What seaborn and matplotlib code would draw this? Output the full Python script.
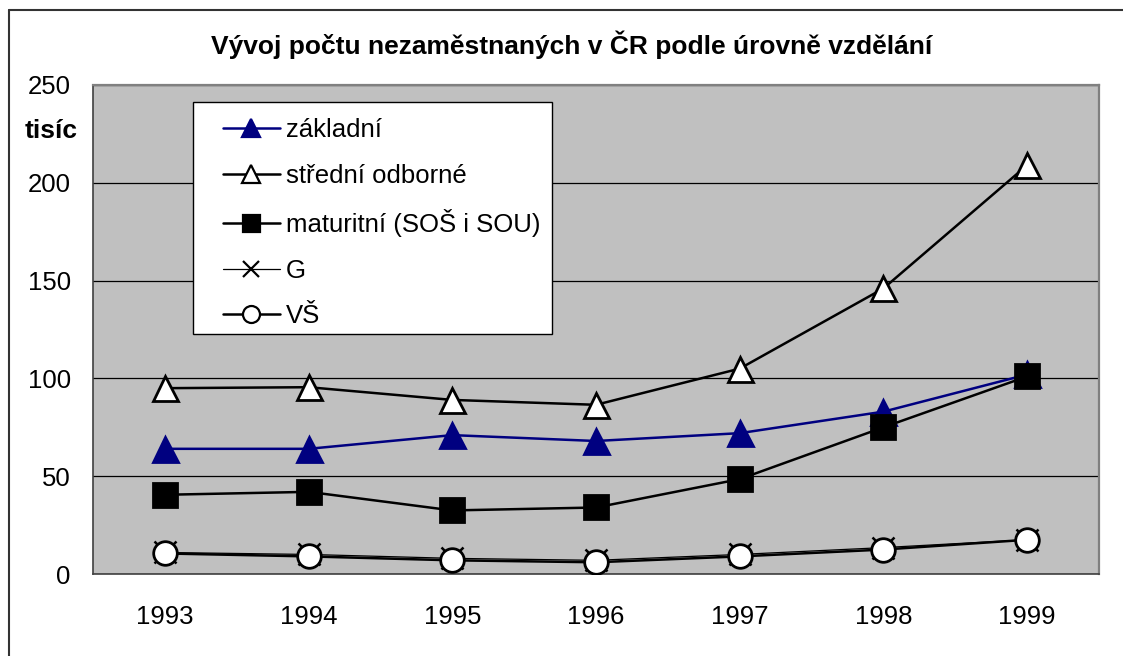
"""
Vývoj počtu nezaměstnaných v ČR podle úrovně vzdělání — Excel-style line chart.
"""

import matplotlib

matplotlib.use("Agg")

import matplotlib.pyplot as plt
import numpy as np
import pandas as pd
import seaborn as sns
from matplotlib.lines import Line2D
from matplotlib.patches import Rectangle
from matplotlib.ticker import FixedLocator

years = ["1993", "1994", "1995", "1996", "1997", "1998", "1999"]
zakladni = [64, 64, 71, 68, 72, 83, 102]
stredni_odborne = [95, 95.5, 89, 86.5, 105, 146, 209]
maturitni = [40.5, 42, 32.5, 34, 48.5, 75, 101]
gymnazium = [11, 10, 8, 7, 10, 13.5, 17.5]
vysokoskolske = [10.5, 9, 7, 6, 9, 12.5, 17.5]

series_names = ["základní", "střední odborné", "maturitní (SOŠ i SOU)", "G", "VŠ"]
series_values = [zakladni, stredni_odborne, maturitni, gymnazium, vysokoskolske]

y_ticks = [0, 50, 100, 150, 200, 250]

# marker, face colour, line colour, line width, marker size
styles = {
    "základní": ("^", "#000080", "#000080", 1.8, 18),
    "střední odborné": ("^", "white", "black", 1.8, 18),
    "maturitní (SOŠ i SOU)": ("s", "black", "black", 1.8, 17),
    "G": ("x", "none", "black", 0.9, 16),
    "VŠ": ("o", "white", "black", 1.8, 17),
}

sns.set_style("white")
plt.rcParams["font.family"] = ["Liberation Sans", "DejaVu Sans"]
plt.rcParams.update({"text.color": "black", "xtick.color": "black",
                     "ytick.color": "black", "axes.labelcolor": "black"})

df = pd.DataFrame({"rok": years * len(series_names),
                   "hodnota": np.concatenate(series_values),
                   "serie": np.repeat(series_names, len(years))})

fig = plt.figure(figsize=(11.23, 6.56), dpi=100)
ax = fig.add_axes([93 / 1123, 82 / 656, 1006 / 1123, 489 / 656])
ax.set_facecolor("#C0C0C0")

handles = []
for i, name in enumerate(series_names):
    marker, face, color, lw, ms = styles[name]
    edge = "#000080" if name == "základní" else "black"
    sub = df[df["serie"] == name]
    sns.lineplot(data=sub, x="rok", y="hodnota", ax=ax, color=color, linewidth=lw,
                 marker=marker, markersize=ms, markerfacecolor=face,
                 markeredgecolor=edge, markeredgewidth=2.0 if marker != "x" else 1.8,
                 zorder=3 + i, legend=False)
    handles.append(Line2D([], [], color=color, linewidth=lw, marker=marker,
                          markersize=ms * 0.72, markerfacecolor=face,
                          markeredgecolor=edge, markeredgewidth=1.6, label=name))

ax.set_xlim(-0.5, len(years) - 0.5)
ax.set_ylim(0, 250)
ax.set_yticks(y_ticks)
ax.yaxis.grid(True, color="black", linewidth=0.9)
ax.set_axisbelow(True)
ax.set_xlabel("")
ax.set_ylabel("")

ax.xaxis.set_minor_locator(FixedLocator(np.arange(-0.5, len(years), 1.0)))
ax.tick_params(axis="x", which="major", length=0, pad=22, labelsize=18.5,
               labelcolor="black")
ax.tick_params(axis="x", which="minor", length=7, width=1, color="#404040", direction="out")
ax.tick_params(axis="y", length=7, width=1, color="#404040", direction="out", pad=9,
               labelsize=18.5, labelcolor="black")

for side in ["left", "bottom"]:
    ax.spines[side].set_color("#404040")
    ax.spines[side].set_linewidth(1.2)
for side in ["right", "top"]:
    ax.spines[side].set_color("#808080")
    ax.spines[side].set_linewidth(1.6)

# legend box
ax.add_patch(Rectangle((100 / 1006, (574 - 334) / 489), 359 / 1006, 232 / 489,
                       transform=ax.transAxes, facecolor="white", edgecolor="black",
                       linewidth=1.0, zorder=2.5))
leg = ax.legend(handles=handles, loc="upper left",
                bbox_to_anchor=(130 / 1006, (574 - 118) / 489), frameon=False,
                borderpad=0, borderaxespad=0, handlelength=2.2, handletextpad=0.25,
                labelspacing=0.84, fontsize=18.5, labelcolor="black")
leg.set_zorder(10)

fig.text(572 / 1123, 1 - 45 / 656, "Vývoj počtu nezaměstnaných v ČR podle úrovně vzdělání",
         ha="center", va="center", fontsize=19, fontweight="bold", color="black")
fig.text(25 / 1123, 1 - 131 / 656, "tisíc", ha="left", va="center", fontsize=19,
         fontweight="bold", color="black")

# outer chart border
fig.add_artist(Line2D([9 / 1123, 1], [1 - 9.5 / 656, 1 - 9.5 / 656], color="#333333",
                      linewidth=1.5, transform=fig.transFigure))
fig.add_artist(Line2D([9 / 1123, 9 / 1123], [0, 1 - 9.5 / 656], color="#333333",
                      linewidth=1.5, transform=fig.transFigure))

fig.savefig("out.png", dpi=100)
